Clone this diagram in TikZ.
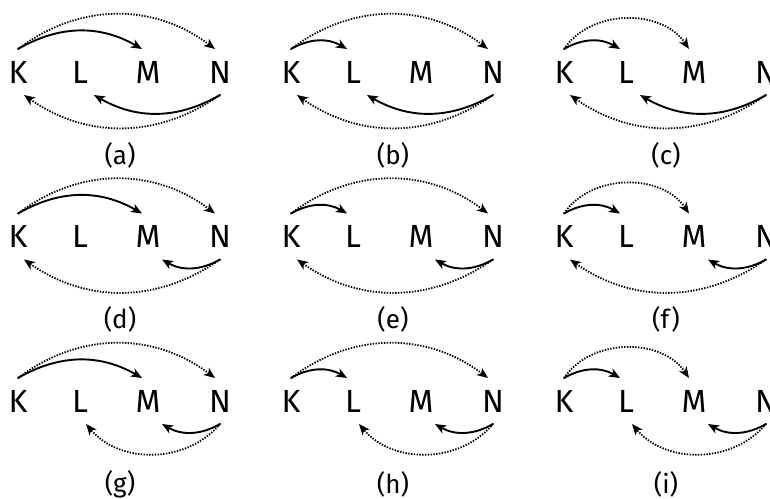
\documentclass[tikz,border=0pt]{standalone}
\usepackage{fontspec}
\setmainfont{Fira Sans}
\usetikzlibrary{arrows.meta}

\tikzset{
  letter/.style={font=\fontsize{16}{16}\selectfont,inner sep=0pt,outer sep=6pt,
    text height=11pt,text depth=0pt},
  caption/.style={font=\fontsize{13}{13}\selectfont,inner sep=0pt},
  link/.style={line width=0.95pt,-{Stealth[length=5.5pt,width=4.5pt,inset=1.5pt]}},
  hop/.style={link,line width=0.9pt,line cap=butt,dash pattern=on 0.7pt off 0.7pt},
  arc/.style={bend left=30}
}

\begin{document}
\begin{tikzpicture}[x=0.5pt,y=0.5pt,line join=round,line cap=round]
  \useasboundingbox (0,0) rectangle (770,-498);
  % label/column/row/top solid/top dotted/bottom solid/bottom dotted/bends of dotted
  \foreach \lab/\col/\row/\ts/\td/\bs/\bd/\ta/\ba in {a/0/0/M/N/L/K/37/35, b/1/0/L/N/L/K/37/35,
      c/2/0/L/M/L/K/56/35, d/0/1/M/N/M/K/37/35, e/1/1/L/N/M/K/37/35, f/2/1/L/M/M/K/56/35,
      g/0/2/M/N/M/L/37/50, h/1/2/L/N/M/L/37/50, i/2/2/L/M/M/L/56/50}{
    \pgfmathsetmacro\x{273*\col}
    \pgfmathsetmacro\y{-72-164.5*\row}
    \node[letter] (\lab K) at (\x+18,\y) {K};
    \node[letter] (\lab L) at (\x+80,\y) {L};
    \node[letter] (\lab M) at (\x+148,\y) {M};
    \node[letter] (\lab N) at (\x+220,\y) {N};
    \node[caption] (\lab cap) at (\x+120,\y-83) {(\lab)};
    \draw[link] (\lab K.north) to[arc] ([xshift=-3pt]\lab\ts.north);
    \draw[hop] (\lab K.north) to[bend left=\ta] ([xshift=-2.5pt]\lab\td.north);
    \draw[link] (\lab N.south) to[arc] ([xshift=7pt]\lab\bs.south);
    \draw[hop] (\lab N.south) to[bend left=\ba] ([xshift=3pt]\lab\bd.south);
  }
\end{tikzpicture}
\end{document}
